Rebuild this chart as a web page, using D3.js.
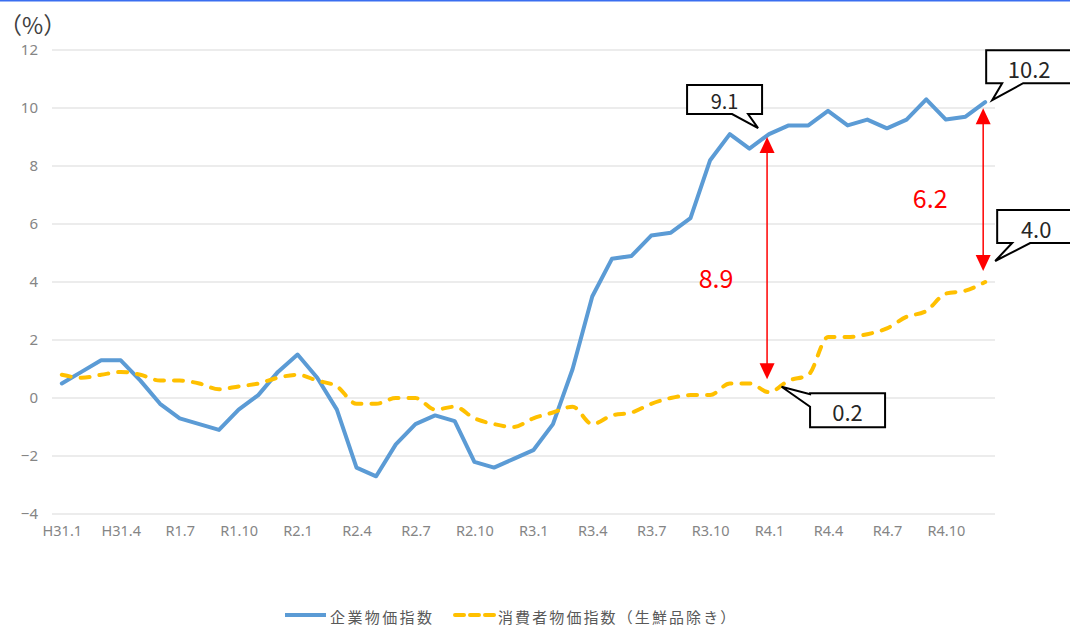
<!DOCTYPE html>
<html>
<head>
<meta charset="utf-8">
<script src="https://cdn.jsdelivr.net/npm/d3@7"></script>
<style>
  body { margin: 0; background: #fff; }
  svg { display: block; font-family: "Noto Sans CJK JP", "Noto Sans", sans-serif; }
  .tick text { fill: #858585; }
</style>
</head>
<body>
<div id="chart"></div>
<script>
// months (category axis)
var months = [
  "H31.1","H31.2","H31.3","H31.4","R1.5","R1.6","R1.7","R1.8","R1.9","R1.10","R1.11","R1.12",
  "R2.1","R2.2","R2.3","R2.4","R2.5","R2.6","R2.7","R2.8","R2.9","R2.10","R2.11","R2.12",
  "R3.1","R3.2","R3.3","R3.4","R3.5","R3.6","R3.7","R3.8","R3.9","R3.10","R3.11","R3.12",
  "R4.1","R4.2","R4.3","R4.4","R4.5","R4.6","R4.7","R4.8","R4.9","R4.10","R4.11","R4.12"
];

// 企業物価指数 (YoY %)
var cgpi = [
  0.5, 0.9, 1.3, 1.3, 0.6, -0.2, -0.7, -0.9, -1.1, -0.4, 0.1, 0.9,
  1.5, 0.7, -0.4, -2.4, -2.7, -1.6, -0.9, -0.6, -0.8, -2.2, -2.4, -2.1,
  -1.8, -0.9, 1.0, 3.5, 4.8, 4.9, 5.6, 5.7, 6.2, 8.2, 9.1, 8.6,
  9.1, 9.4, 9.4, 9.9, 9.4, 9.6, 9.3, 9.6, 10.3, 9.6, 9.7, 10.2
];

// 消費者物価指数（生鮮品除き） (YoY %)
var cpi = [
  0.8, 0.7, 0.8, 0.9, 0.8, 0.6, 0.6, 0.5, 0.3, 0.4, 0.5, 0.7,
  0.8, 0.6, 0.4, -0.2, -0.2, 0.0, 0.0, -0.4, -0.3, -0.7, -0.9, -1.0,
  -0.7, -0.5, -0.3, -0.9, -0.6, -0.5, -0.2, 0.0, 0.1, 0.1, 0.5, 0.5,
  0.2, 0.6, 0.8, 2.1, 2.1, 2.2, 2.4, 2.8, 3.0, 3.6, 3.7, 4.0
];

var yTicks = [-4, -2, 0, 2, 4, 6, 8, 10, 12];
var seriesNames = ["企業物価指数", "消費者物価指数（生鮮品除き）"];

var svgWidth = 1070;
var svgHeight = 625;

var svg = d3.select("#chart")
  .append("svg")
  .attr("width", svgWidth)
  .attr("height", svgHeight);

// thin blue border at the top
svg.append("rect")
  .attr("x", 0).attr("y", 0)
  .attr("width", svgWidth).attr("height", 1.5)
  .attr("fill", "#3a6ef0");

var xScale = d3.scalePoint()
  .domain(months)
  .range([52, 995])
  .padding(0.5);

var yScale = d3.scaleLinear()
  .domain([-4, 12])
  .range([514, 50]);

// gridlines
svg.append("g")
  .selectAll("line")
  .data(yTicks)
  .join("line")
  .attr("x1", 52).attr("x2", 995)
  .attr("y1", d => yScale(d)).attr("y2", d => yScale(d))
  .attr("stroke", "#d9d9d9")
  .attr("stroke-width", 1);

// y axis labels
var leftAxis = d3.axisLeft(yScale)
  .tickValues(yTicks)
  .tickSize(0)
  .tickPadding(0)
  .tickFormat(d => d < 0 ? "\u2212" + Math.abs(d) : d);

svg.append("g")
  .attr("transform", "translate(38,0)")
  .call(leftAxis)
  .call(g => g.select(".domain").remove())
  .selectAll("text")
  .attr("font-size", 15)
  .attr("font-family", "'Noto Sans', sans-serif");

// x axis labels every 3 months
var bottomAxis = d3.axisBottom(xScale)
  .tickValues(months.filter((m, i) => i % 3 === 0))
  .tickSize(0)
  .tickPadding(0);

svg.append("g")
  .attr("transform", "translate(0,526)")
  .call(bottomAxis)
  .call(g => g.select(".domain").remove())
  .selectAll("text")
  .attr("font-size", 14.5)
  .attr("font-family", "'Noto Sans', sans-serif");

// unit label
svg.append("text")
  .attr("x", -1)
  .attr("y", 34)
  .attr("font-size", 23)
  .attr("fill", "#404040")
  .text("（%）");

// lines
var blueLine = d3.line()
  .x((d, i) => xScale(months[i]))
  .y(d => yScale(d));

var yellowLine = d3.line()
  .x((d, i) => xScale(months[i]))
  .y(d => yScale(d))
  .curve(d3.curveMonotoneX);

svg.append("path")
  .attr("d", blueLine(cgpi))
  .attr("fill", "none")
  .attr("stroke", "#5b9bd5")
  .attr("stroke-width", 4)
  .attr("stroke-linejoin", "round")
  .attr("stroke-linecap", "round");

svg.append("path")
  .attr("d", yellowLine(cpi))
  .attr("fill", "none")
  .attr("stroke", "#ffc000")
  .attr("stroke-width", 4)
  .attr("stroke-dasharray", "9,10")
  .attr("stroke-linecap", "round");

// red double arrows showing the gap
var gaps = [
  { i: 36, topPad: 3, botPad: 13, labelDx: -51, labelY: 277 },
  { i: 47, topPad: 6, botPad: 11, labelDx: -53, labelY: 197 }
];

var arrowG = svg.append("g");
gaps.forEach(function(g) {
  var x = xScale(months[g.i]) - 2;
  var yTop = yScale(cgpi[g.i]) + g.topPad;
  var yBot = yScale(cpi[g.i]) - g.botPad;
  arrowG.append("line")
    .attr("x1", x).attr("x2", x)
    .attr("y1", yTop + 14).attr("y2", yBot - 14)
    .attr("stroke", "#ff0000")
    .attr("stroke-width", 1.5);
  arrowG.append("path")
    .attr("d", `M${x},${yTop} L${x - 7.5},${yTop + 16} L${x + 7.5},${yTop + 16} Z`)
    .attr("fill", "#ff0000");
  arrowG.append("path")
    .attr("d", `M${x},${yBot} L${x - 7.5},${yBot - 16} L${x + 7.5},${yBot - 16} Z`)
    .attr("fill", "#ff0000");
  arrowG.append("text")
    .attr("x", x + g.labelDx)
    .attr("y", g.labelY)
    .attr("text-anchor", "middle")
    .attr("dominant-baseline", "central")
    .attr("font-size", 25)
    .attr("fill", "#ff0000")
    .text((cgpi[g.i] - cpi[g.i]).toFixed(1));
});

// callouts
var callouts = [
  { series: cgpi, i: 36, bx: -82, by: -49, bw: 75, bh: 29, side: "bottom", tip: [-11, -6], b1: -37, b2: -21, fs: 20 },
  { series: cgpi, i: 47, bx: 1, by: -52, bw: 86, bh: 33, side: "bottom", tip: [7, -2], b1: 17, b2: 38, fs: 22 },
  { series: cpi, i: 47, bx: 12, by: -72, bw: 78, bh: 33, side: "bottom", tip: [10, -21], b1: 27, b2: 45, fs: 22 },
  { series: cpi, i: 36, bx: 41, by: 1, bw: 75, bh: 34, side: "left", tip: [12.5, -5.5], b1: 2, b2: 14.5, fs: 22 }
];

var calloutG = svg.append("g");
callouts.forEach(function(c) {
  var ax = xScale(months[c.i]);
  var ay = yScale(c.series[c.i]);
  var x0 = ax + c.bx, y0 = ay + c.by, x1 = x0 + c.bw, y1 = y0 + c.bh;
  var tx = ax + c.tip[0], ty = ay + c.tip[1];
  var d;
  if (c.side === "bottom") {
    d = `M${x0},${y0} H${x1} V${y1} H${ax + c.b2} L${tx},${ty} L${ax + c.b1},${y1} H${x0} Z`;
  } else {
    d = `M${x0},${y0} H${x1} V${y1} H${x0} V${ay + c.b2} L${tx},${ty} L${x0},${ay + c.b1} Z`;
  }
  calloutG.append("path")
    .attr("d", d)
    .attr("fill", "#fff")
    .attr("stroke", "#000")
    .attr("stroke-width", 2)
    .attr("stroke-linejoin", "miter");
  calloutG.append("text")
    .attr("x", (x0 + x1) / 2)
    .attr("y", (y0 + y1) / 2 + 1)
    .attr("text-anchor", "middle")
    .attr("dominant-baseline", "central")
    .attr("font-size", c.fs)
    .attr("fill", "#262626")
    .text(c.series[c.i].toFixed(1));
});

// legend
var legend = svg.append("g");
legend.append("line")
  .attr("x1", 285).attr("x2", 326)
  .attr("y1", 615).attr("y2", 615)
  .attr("stroke", "#5b9bd5")
  .attr("stroke-width", 4);
legend.append("text")
  .attr("x", 330).attr("y", 616)
  .attr("dominant-baseline", "central")
  .attr("font-size", 15)
  .attr("letter-spacing", 2.4)
  .attr("fill", "#595959")
  .text(seriesNames[0]);
legend.append("line")
  .attr("x1", 455).attr("x2", 494)
  .attr("y1", 615).attr("y2", 615)
  .attr("stroke", "#ffc000")
  .attr("stroke-width", 4)
  .attr("stroke-dasharray", "9,6")
  .attr("stroke-linecap", "round");
legend.append("text")
  .attr("x", 498).attr("y", 616)
  .attr("dominant-baseline", "central")
  .attr("font-size", 15)
  .attr("letter-spacing", 2.1)
  .attr("fill", "#595959")
  .text(seriesNames[1]);
</script>
</body>
</html>
